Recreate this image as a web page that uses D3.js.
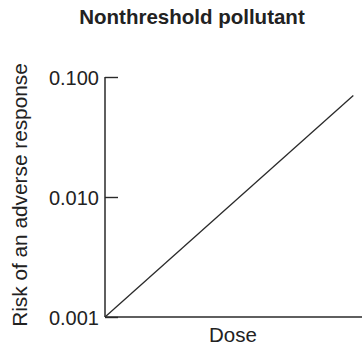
<!DOCTYPE html>
<html>
<head>
<meta charset="utf-8">
<script src="https://cdn.jsdelivr.net/npm/d3@7"></script>
<style>
  html, body { margin: 0; padding: 0; background: #fff; }
  svg { display: block; }
  text { font-family: "Liberation Sans", Arial, Helvetica, sans-serif; fill: #222; }
</style>
</head>
<body>
<svg id="chart" width="362" height="345"></svg>
<script>
// Dose–response for a nonthreshold pollutant (log risk vs. dose)
const doses = [0, 1];
const risks = [0.001, 0.07];
const tickValues = [0.001, 0.01, 0.1];
const tickLabels = ["0.001", "0.010", "0.100"];

const title = "Nonthreshold pollutant";
const xTitle = "Dose";
const yTitle = "Risk of an adverse response";

const svg = d3.select("#chart");
const ink = "#2a2a2a";

const x = d3.scaleLinear().domain([0, 1.035]).range([105, 362]);
const y = d3.scaleLog().domain([0.001, 0.1]).range([317, 77]);

// Title
svg.append("text")
  .attr("x", 192).attr("y", 24)
  .attr("text-anchor", "middle")
  .style("font-size", "20.5px")
  .style("font-weight", "bold")
  .text(title);

// Y axis: ticks pointing inward, labels on the left
const yAxis = d3.axisRight(y)
  .tickValues(tickValues)
  .tickSize(13)
  .tickFormat((d, i) => tickLabels[i]);

const gy = svg.append("g")
  .attr("transform", `translate(${x(0)},0)`)
  .call(yAxis);
gy.select(".domain").remove();
gy.selectAll(".tick line").attr("stroke", ink).attr("stroke-width", 1.4);
gy.selectAll(".tick text")
  .attr("x", -6)
  .attr("dy", "0.35em")
  .attr("text-anchor", "end")
  .style("font-size", "20px")
  .style("font-family", "Liberation Sans, Arial, sans-serif")
  .attr("fill", "#222");

// Axis lines
svg.append("line")
  .attr("x1", x(0)).attr("x2", x(0))
  .attr("y1", y(0.1)).attr("y2", y(0.001))
  .attr("stroke", ink).attr("stroke-width", 1.5);
svg.append("line")
  .attr("x1", x(0)).attr("x2", x.range()[1])
  .attr("y1", y(0.001)).attr("y2", y(0.001))
  .attr("stroke", ink).attr("stroke-width", 1.5);

// Dose–response line
const line = d3.line()
  .x((d, i) => x(doses[i]))
  .y(d => y(d));
svg.append("path")
  .datum(risks)
  .attr("d", line)
  .attr("fill", "none")
  .attr("stroke", ink)
  .attr("stroke-width", 1.3);

// Axis titles
svg.append("text")
  .attr("x", 233).attr("y", 342)
  .attr("text-anchor", "middle")
  .style("font-size", "20.5px")
  .text(xTitle);

svg.append("text")
  .attr("transform", `translate(27,195) rotate(-90)`)
  .attr("text-anchor", "middle")
  .style("font-size", "20.8px")
  .text(yTitle);
</script>
</body>
</html>
